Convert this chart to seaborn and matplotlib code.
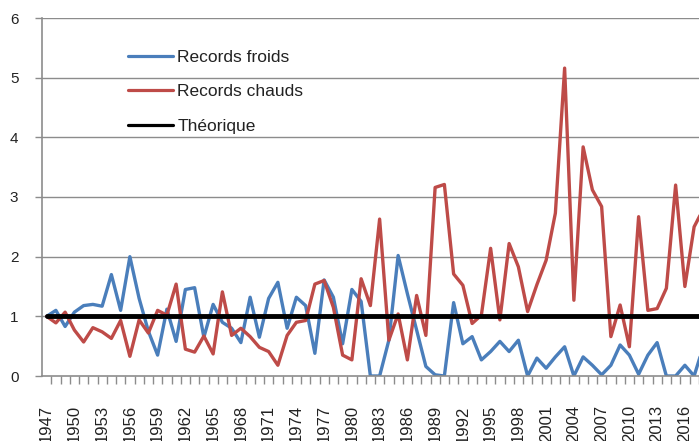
import matplotlib
matplotlib.use("Agg")
import matplotlib.pyplot as plt
import seaborn as sns
import pandas as pd

# Data
YEARS = list(range(1947, 2019))
RECORDS_FROIDS = [
    1.0, 1.1, 0.83, 1.07, 1.18, 1.2, 1.17, 1.7, 1.1, 2.0,
    1.3, 0.75, 0.35, 1.12, 0.58, 1.45, 1.48, 0.65, 1.2, 0.9,
    0.8, 0.56, 1.32, 0.65, 1.3, 1.57, 0.8, 1.32, 1.18, 0.38,
    1.61, 1.32, 0.54, 1.45, 1.25, 0.0, 0.0, 0.6, 2.02, 1.38,
    0.77, 0.16, 0.02, 0.0, 1.23, 0.54, 0.66, 0.27, 0.41, 0.58,
    0.41, 0.6, 0.0, 0.3, 0.13, 0.32, 0.49, 0.0, 0.32, 0.18,
    0.02, 0.18, 0.52, 0.35, 0.03, 0.35, 0.56, 0.0, 0.0, 0.18,
    0.0, 0.5,
]
RECORDS_CHAUDS = [
    1.0, 0.89, 1.07, 0.77, 0.57, 0.81, 0.74, 0.63, 0.93, 0.33,
    0.94, 0.72, 1.1, 1.02, 1.54, 0.45, 0.4, 0.67, 0.37, 1.41,
    0.68, 0.8, 0.66, 0.48, 0.41, 0.18, 0.68, 0.9, 0.93, 1.54,
    1.6, 1.15, 0.35, 0.27, 1.63, 1.18, 2.63, 0.6, 1.04, 0.27,
    1.35, 0.68, 3.16, 3.21, 1.71, 1.52, 0.88, 1.02, 2.14, 0.94,
    2.22, 1.83, 1.08, 1.53, 1.94, 2.73, 5.16, 1.27, 3.84, 3.12,
    2.84, 0.66, 1.19, 0.49, 2.67, 1.1, 1.13, 1.47, 3.2, 1.5,
    2.5, 2.8,
]
THEORIQUE = [1.0] * len(YEARS)
LABEL_YEARS = list(range(1947, 2017, 3))
Y_TICKS = [0, 1, 2, 3, 4, 5, 6]

BLUE = "#4A7EBB"
RED = "#BE4B48"
GRID = "#8c8c8c"

sns.set_theme(style="white")
plt.rcParams["font.family"] = ["Liberation Sans", "DejaVu Sans"]

df = pd.DataFrame({"annee": YEARS, "froids": RECORDS_FROIDS,
                   "chauds": RECORDS_CHAUDS, "theorique": THEORIQUE})

fig = plt.figure(figsize=(6.99, 4.41), dpi=100)
ax = fig.add_axes([42 / 699, 65 / 441, 657 / 699, 358 / 441])

sns.lineplot(data=df, x="annee", y="froids", ax=ax, color=BLUE, lw=2.4,
             label="Records froids")
sns.lineplot(data=df, x="annee", y="chauds", ax=ax, color=RED, lw=2.4,
             label="Records chauds")
sns.lineplot(data=df, x="annee", y="theorique", ax=ax, color="black", lw=3.5,
             label="Théorique")

ax.set_xlim(1946.5, 1946.5 + 657 / 9.25)
ax.set_ylim(0, 6)
ax.set_xlabel("")
ax.set_ylabel("")

# gridlines and axes, Excel-like
ax.set_yticks(Y_TICKS)
ax.set_yticklabels([str(t) for t in Y_TICKS], fontsize=11)
for t in Y_TICKS[1:]:
    ax.axhline(t, color=GRID, lw=1.0, zorder=0)
ax.set_xticks(LABEL_YEARS)
ax.set_xticklabels([str(y) for y in LABEL_YEARS], rotation=90, fontsize=12)
ax.set_xticks([y + 0.5 for y in YEARS[:-1]], minor=True)
ax.tick_params(axis="x", which="major", length=0, pad=21, colors="#222222")
ax.tick_params(axis="x", which="minor", length=6, width=1, color=GRID,
               bottom=True)
ax.tick_params(axis="y", length=5, width=1, color=GRID, pad=12, left=True,
               labelcolor="#222222")

for side in ["top", "right"]:
    ax.spines[side].set_visible(False)
for side in ["left", "bottom"]:
    ax.spines[side].set_color(GRID)
    ax.spines[side].set_linewidth(1.2)

ax.legend(loc="upper left", bbox_to_anchor=(128 / 699, 1 - 50 / 441),
          bbox_transform=fig.transFigure, frameon=False, fontsize=12.5,
          borderpad=0, borderaxespad=0, handlelength=2.6, handletextpad=0.25,
          labelspacing=1.1)
for line in ax.get_legend().get_lines():
    line.set_linewidth(2.3)
for txt in ax.get_legend().get_texts():
    txt.set_color("#222222")

fig.savefig("out.png", dpi=100)
